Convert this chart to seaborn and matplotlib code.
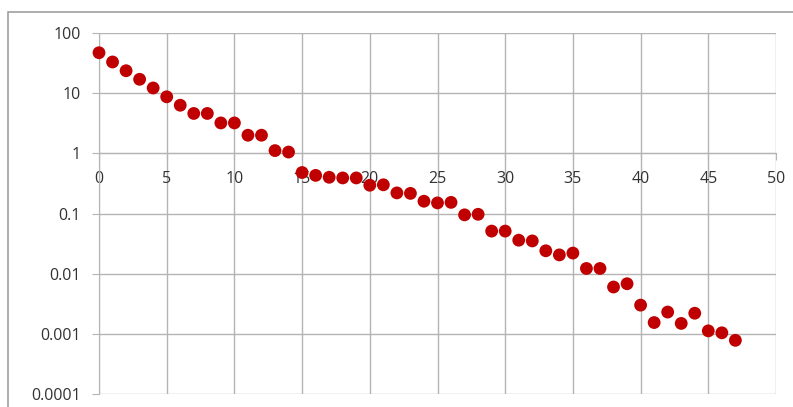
import numpy as np
import pandas as pd
import seaborn as sns
import matplotlib.pyplot as plt
from matplotlib.patches import Rectangle

# values (log scale)
x_vals = list(range(48))
y_vals = [47, 33, 23.6, 17, 12.2, 8.7, 6.3, 4.6, 4.6, 3.2,
          3.2, 2.0, 2.0, 1.11, 1.05, 0.48, 0.43, 0.40, 0.39, 0.39,
          0.295, 0.30, 0.22, 0.216, 0.16, 0.15, 0.153, 0.095, 0.097, 0.051,
          0.051, 0.036, 0.035, 0.024, 0.0205, 0.022, 0.0122, 0.0122, 0.006, 0.0068,
          0.003, 0.00154, 0.0023, 0.00149, 0.0022, 0.00112, 0.00104, 0.00078]
x_ticks = [0, 5, 10, 15, 20, 25, 30, 35, 40, 45, 50]
y_ticks = [0.0001, 0.001, 0.01, 0.1, 1, 10, 100]
y_labels = ["0.0001", "0.001", "0.01", "0.1", "1", "10", "100"]

df = pd.DataFrame({"x": x_vals, "y": y_vals})

sns.set_style("white")
plt.rcParams['font.family'] = ['Open Sans', 'DejaVu Sans']

fig = plt.figure(figsize=(7.93, 4.07), dpi=100)
ax = fig.add_axes([99 / 793, 1 - 394 / 407, (776 - 99) / 793, (394 - 33) / 407])

# outer chart border like Excel
fig.patches.append(Rectangle((8 / 793, -0.1), 1.2, 1 - 12 / 407 + 0.1, transform=fig.transFigure,
                             fill=False, edgecolor="#a0a0a0", lw=1.2, zorder=0))

sns.scatterplot(data=df, x="x", y="y", ax=ax, color="#C00000", s=85,
                edgecolor="none", zorder=3, clip_on=False)

ax.set_yscale("log")
ax.set_ylim(1e-4, 100)
ax.set_xlim(0, 50)
ax.set_xticks(x_ticks)
ax.set_yticks(y_ticks)
ax.set_yticklabels(y_labels)
ax.minorticks_off()
ax.set_xlabel("")
ax.set_ylabel("")

ax.grid(True, color="#b4b4b4", lw=1.0)
for s in ["top", "right"]:
    ax.spines[s].set_visible(False)
ax.spines["left"].set_color("#b4b4b4")
ax.spines["bottom"].set_position(("data", 1))
ax.spines["bottom"].set_color("#b4b4b4")
ax.tick_params(axis="y", which="major", left=True, length=5, color="#b4b4b4",
               labelsize=11.5, labelcolor="#333333", pad=8)
ax.tick_params(axis="x", which="major", bottom=True, length=5, color="#b4b4b4",
               labelsize=11.5, labelcolor="#333333", pad=8)

fig.savefig("out.png", dpi=100)
